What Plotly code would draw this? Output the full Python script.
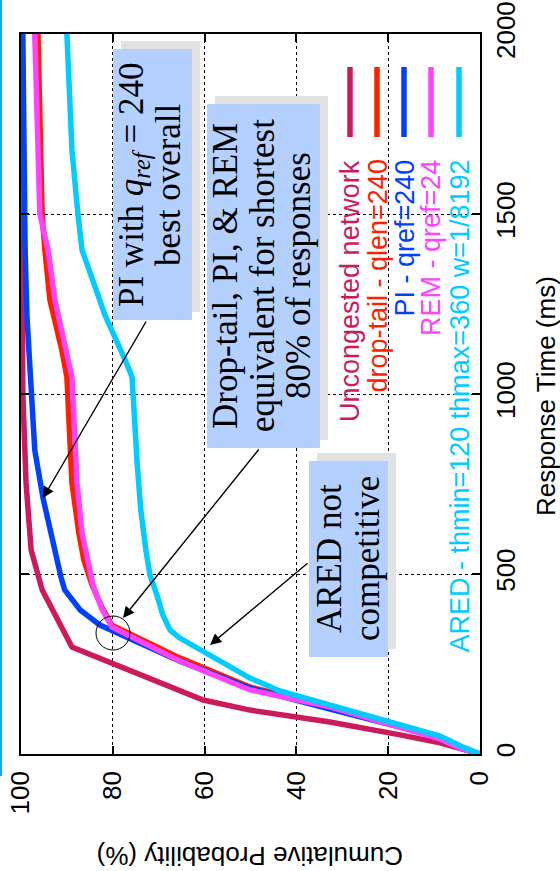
import plotly.graph_objects as go

# ---------------- data (response time in ms, cumulative probability in %) ----------------
uncong_ms   = [0, 14, 31, 53, 89, 122, 150, 297, 456, 567, 753, 1000, 1500, 2000]
uncong_pct  = [0, 4.4, 8.7, 17.4, 32.7, 50.1, 60.3, 88.9, 95.4, 97.8, 98.9, 99.6, 99.8, 100]

droptail_ms  = [0, 17, 44, 78, 133, 186, 267, 358, 408, 469, 539, 614, 753, 928, 1047, 1122, 1261, 1400, 1500, 2000]
droptail_pct = [0, 4.4, 8.7, 17.4, 32.7, 50.1, 65.4, 80.2, 82.4, 84.5, 86.3, 87.4, 88.9, 89.5, 90.0, 91.1, 93.7, 94.8, 95.4, 96.3]

pi_ms  = [0, 19, 44, 75, 125, 183, 258, 339, 358, 400, 456, 492, 567, 614, 711, 844, 1000, 1214, 1400, 1500, 2000]
pi_pct = [0, 4.4, 8.7, 17.4, 32.7, 50.1, 65.4, 80.0, 82.8, 87.1, 90.5, 91.3, 92.6, 93.7, 95.2, 97.0, 97.8, 98.7, 99.1, 99.2, 99.6]

rem_ms  = [0, 17, 42, 75, 131, 178, 258, 353, 403, 469, 539, 614, 753, 928, 1047, 1122, 1261, 1400, 1500, 2000]
rem_pct = [0, 4.4, 8.7, 17.4, 32.7, 50.1, 65.4, 80.2, 82.4, 84.3, 85.6, 86.7, 87.8, 88.5, 88.9, 90.2, 92.6, 94.1, 95.9, 97.0]

ared_ms  = [0, 17, 50, 81, 136, 175, 211, 289, 322, 344, 386, 442, 497, 567, 678, 808, 1000, 1047, 1094, 1142, 1219, 1281, 1400, 1500, 1678, 2000]
ared_pct = [0, 3.3, 8.7, 17.4, 32.7, 43.6, 50.1, 61.0, 65.4, 67.5, 69.1, 70.4, 71.9, 72.8, 73.9, 74.7, 75.6, 75.8, 77.3, 79.1, 81.7, 83.4, 86.7, 87.6, 88.9, 90.0]

series_names = ["Uncongested network", "drop-tail - qlen=240", "PI - qref=240",
                "REM - qref=24", "ARED - thmin=120 thmax=360 w=1/8192"]
series_colors = ["#cc1a5c", "#ff2000", "#0040ff", "#ff44ff", "#00ccff"]
series_data = [(uncong_ms, uncong_pct), (droptail_ms, droptail_pct), (pi_ms, pi_pct),
               (rem_ms, rem_pct), (ared_ms, ared_pct)]

prob_ticks = [0, 20, 40, 60, 80, 100]
time_ticks = [0, 500, 1000, 1500, 2000]

# ---------------- figure ----------------
W, H = 560, 871
L, R, T, B = 21, 480, 34, 754   # plot area in pixels


def px(x):
    return (x - L) / (R - L)


def py(y):
    return (B - y) / (B - T)


fig = go.Figure()
for (ms, pct), name, col in zip(series_data, series_names, series_colors):
    fig.add_trace(go.Scatter(x=pct, y=ms, mode="lines", name=name,
                             line=dict(color=col, width=5.5), showlegend=False))

SANS = "Liberation Sans, Arial, sans-serif"
SERIF = "Liberation Serif, Times New Roman, serif"

fig.update_layout(
    width=W, height=H,
    margin=dict(l=L, r=W - R, t=T, b=H - B, autoexpand=False),
    paper_bgcolor="white", plot_bgcolor="white",
    font=dict(family=SANS, size=26, color="black"),
    xaxis=dict(range=[100, 0], tickvals=prob_ticks, ticktext=[str(v) for v in prob_ticks],
               tickangle=-90, ticks="inside", ticklen=8, tickwidth=2, tickcolor="black",
               showline=True, linecolor="black", linewidth=1.5, mirror="ticks",
               showgrid=True, gridcolor="black", gridwidth=1, griddash="dot",
               zeroline=False, ticklabelstandoff=5, automargin=False,
               tickfont=dict(family=SANS, size=26)),
    yaxis=dict(range=[0, 2000], tickvals=time_ticks, ticktext=[str(v) for v in time_ticks],
               side="right", tickangle=-90, ticks="inside", ticklen=8, tickwidth=2,
               tickcolor="black",
               showline=True, linecolor="black", linewidth=1.5, mirror="ticks",
               showgrid=True, gridcolor="black", gridwidth=1, griddash="dot",
               zeroline=False, ticklabelstandoff=2, automargin=False,
               tickfont=dict(family=SANS, size=26)),
)

shapes = []
annos = []

# axis titles
annos.append(dict(text="Cumulative Probability (%)", xref="paper", yref="paper",
                  x=px(250), y=py(856), textangle=180, showarrow=False,
                  font=dict(family=SANS, size=26), xanchor="center", yanchor="middle"))
annos.append(dict(text="Response Time (ms)", xref="paper", yref="paper",
                  x=px(546), y=py(518), textangle=-90, showarrow=False,
                  font=dict(family=SANS, size=26), xanchor="center", yanchor="bottom"))

# legend (rotated)
leg_x = [350, 377, 404, 431, 459]
for xc, name, col in zip(leg_x, series_names, series_colors):
    shapes.append(dict(type="line", xref="paper", yref="paper",
                       x0=px(xc), x1=px(xc), y0=py(67), y1=py(137),
                       line=dict(color=col, width=5.5)))
    annos.append(dict(text=name, xref="paper", yref="paper", x=px(xc), y=py(158),
                      textangle=-90, showarrow=False, xanchor="center", yanchor="top",
                      font=dict(family=SANS, size=27, color=col)))

# callout boxes: (x0, y0, x1, y1) in pixels, lines (text, x center)
boxes = [
    ((113, 49, 192, 320), [("PI with <i>q</i><sub><i>ref</i></sub> = 240", 133), ("best overall", 168)], 185),
    ((207, 104, 320, 448), [("Drop-tail, PI, &amp; REM", 225), ("equivalent for shortest", 262),
                            ("80% of responses", 298)], 276),
    ((309, 461, 388, 657), [("ARED not", 329), ("competitive", 367)], 559),
]
for (x0, y0, x1, y1), lines, yc in boxes:
    shapes.append(dict(type="rect", xref="paper", yref="paper",
                       x0=px(x0 + 8), x1=px(x1 + 8), y0=py(y1 - 8), y1=py(y0 - 8),
                       fillcolor="#e1e2e2", line=dict(width=0), layer="above"))
    shapes.append(dict(type="rect", xref="paper", yref="paper",
                       x0=px(x0), x1=px(x1), y0=py(y1), y1=py(y0),
                       fillcolor="#b4d0ff", line=dict(width=0), layer="above"))
    for txt, xc in lines:
        annos.append(dict(text=txt, xref="paper", yref="paper", x=px(xc), y=py(yc),
                          textangle=-90, showarrow=False, xanchor="center", yanchor="middle",
                          font=dict(family=SERIF, size=35, color="black")))

# arrows: head (x, y) -> tail offset
arrows = [((43, 498), (147, 320)), ((123, 618), (260, 448)), ((210, 645), (309, 562))]
for (hx, hy), (tx, ty) in arrows:
    annos.append(dict(text="", xref="paper", yref="paper", x=px(hx), y=py(hy),
                      ax=tx - hx, ay=ty - hy, showarrow=True, arrowhead=2, arrowsize=1.6,
                      arrowwidth=1.4, arrowcolor="black"))

# circle highlighting the crossing point
shapes.append(dict(type="circle", xref="paper", yref="paper",
                   x0=px(96), x1=px(130), y0=py(650), y1=py(616),
                   line=dict(color="black", width=1)))

# cyan slide border on the left
shapes.append(dict(type="line", xref="paper", yref="paper",
                   x0=px(1), x1=px(1), y0=py(0), y1=py(776),
                   line=dict(color="#00b4e6", width=2)))

fig.update_layout(shapes=shapes, annotations=annos)
fig.write_html("out.html", config={"displayModeBar": False},
               post_script="document.body.style.margin='0';document.body.style.padding='0';"
                           "document.body.style.overflow='hidden';")
